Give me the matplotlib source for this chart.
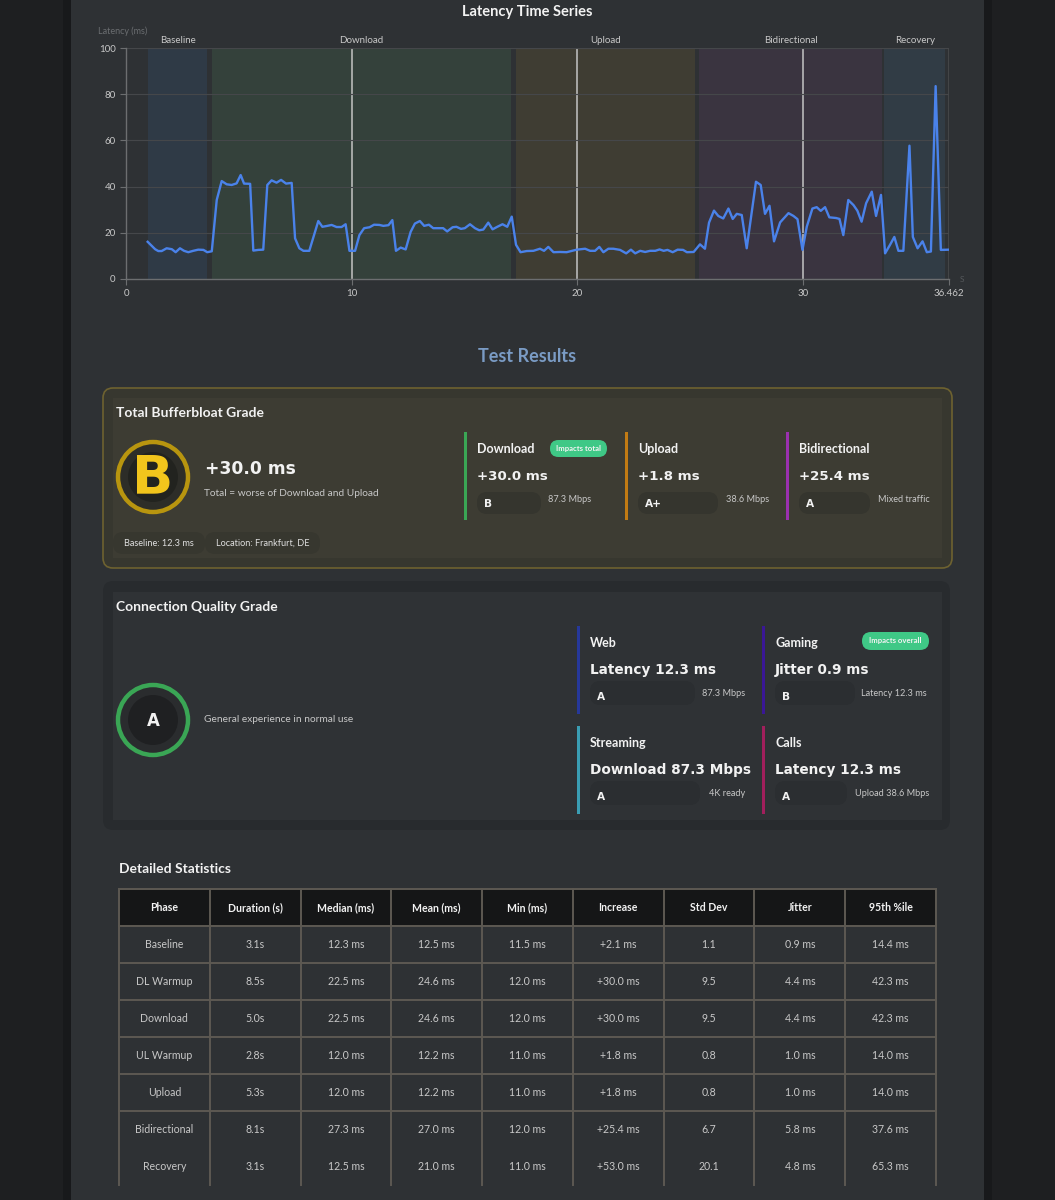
import matplotlib
matplotlib.use("Agg")
import matplotlib.pyplot as plt
from matplotlib.patches import FancyBboxPatch, Circle, Rectangle

# ---- data -------------------------------------------------------------
times = [
    0.96, 1.29, 1.43, 1.58, 1.80, 2.03, 2.20, 2.39, 2.57, 2.76,
    2.98, 3.20, 3.43, 3.60, 3.80, 4.02, 4.24, 4.46, 4.68, 4.90,
    5.08, 5.23, 5.50, 5.64, 5.86, 6.08, 6.26, 6.45, 6.67, 6.87,
    7.09, 7.34, 7.49, 7.68, 7.86, 8.12, 8.52, 8.70, 8.92, 9.11,
    9.33, 9.55, 9.73, 9.90, 10.15, 10.34, 10.55, 10.79, 10.99, 11.23,
    11.40, 11.63, 11.80, 11.96, 12.17, 12.39, 12.61, 12.80, 13.02, 13.21,
    13.42, 13.61, 14.05, 14.23, 14.47, 14.64, 14.84, 15.01, 15.24, 15.46,
    15.65, 15.83, 16.05, 16.24, 16.45, 16.68, 16.89, 17.09, 17.28, 17.48,
    17.75, 18.05, 18.34, 18.52, 18.71, 18.94, 19.23, 19.52, 19.97, 20.34,
    20.56, 20.78, 20.97, 21.15, 21.37, 21.59, 21.89, 22.16, 22.37, 22.56,
    22.78, 23.00, 23.22, 23.45, 23.64, 23.82, 23.99, 24.22, 24.44, 24.68,
    24.85, 25.15, 25.43, 25.65, 25.83, 26.05, 26.24, 26.46, 26.69, 26.88,
    27.06, 27.28, 27.50, 27.91, 28.12, 28.31, 28.51, 28.71, 28.98, 29.35,
    29.57, 29.75, 29.97, 30.16, 30.41, 30.60, 30.78, 30.97, 31.16, 31.46,
    31.61, 31.78, 32.00, 32.23, 32.40, 32.59, 32.79, 33.04, 33.23, 33.45,
    33.63, 33.85, 34.04, 34.22, 34.44, 34.71, 34.86, 35.07, 35.29, 35.48,
    35.66, 35.87, 36.10, 36.46,
]
latency = [
    16.1, 12.9, 12.1, 12.1, 13.3, 12.9, 11.6, 13.3, 12.2, 11.6,
    12.2, 12.7, 12.6, 11.6, 12.0, 34.2, 42.4, 41.0, 40.7, 41.4,
    45.0, 41.3, 41.2, 12.3, 12.6, 12.7, 40.7, 42.7, 41.7, 42.9,
    41.3, 41.6, 17.6, 13.3, 12.2, 12.2, 25.1, 22.6, 23.0, 23.4,
    22.5, 22.5, 23.7, 12.2, 12.2, 19.0, 22.0, 22.4, 23.5, 23.4,
    23.0, 23.3, 25.5, 12.2, 13.6, 12.8, 20.4, 24.0, 25.1, 23.0,
    23.5, 22.0, 22.0, 20.6, 22.4, 22.6, 21.7, 22.0, 23.7, 22.0,
    21.1, 21.4, 24.4, 21.5, 22.6, 23.7, 22.6, 27.0, 14.8, 11.6,
    12.1, 12.2, 13.1, 12.2, 13.9, 11.6, 11.7, 11.6, 12.7, 13.1,
    12.2, 12.2, 13.9, 11.6, 13.1, 13.1, 12.6, 11.1, 12.7, 11.1,
    12.2, 11.7, 12.2, 12.2, 12.8, 12.2, 12.6, 11.6, 12.7, 12.6,
    11.6, 11.7, 15.0, 13.1, 24.4, 29.6, 27.3, 26.2, 30.5, 26.0,
    28.2, 27.7, 13.3, 42.1, 40.7, 28.2, 31.7, 16.3, 24.5, 28.5,
    27.3, 25.9, 12.6, 22.6, 30.5, 31.1, 29.5, 31.1, 26.7, 26.4,
    26.0, 19.0, 34.2, 32.0, 29.6, 24.8, 32.8, 37.8, 27.3, 36.4,
    11.1, 14.8, 18.2, 12.2, 12.2, 57.7, 18.2, 13.3, 16.3, 11.6,
    11.9, 83.5, 12.6, 12.7,
]
test_end = 36.462

phase_names = ["Baseline", "Download", "Upload", "Bidirectional", "Recovery"]
phase_start = [0.97, 3.80, 17.28, 25.40, 33.60]
phase_end = [3.60, 17.06, 25.20, 33.50, 36.30]
phase_colors = ["#2f3a46", "#34413b", "#3f3d33", "#3a3440", "#313c45"]

total_grade = "B"
total_value = "+30.0 ms"
total_note = "Total = worse of Download and Upload"
total_pills = ["Baseline: 12.3 ms", "Location: Frankfurt, DE"]

dir_names = ["Download", "Upload", "Bidirectional"]
dir_values = ["+30.0 ms", "+1.8 ms", "+25.4 ms"]
dir_grades = ["B", "A+", "A"]
dir_notes = ["87.3 Mbps", "38.6 Mbps", "Mixed traffic"]
dir_colors = ["#3aa655", "#c27b14", "#9b30b0"]

quality_grade = "A"
quality_note = "General experience in normal use"
use_names = ["Web", "Gaming", "Streaming", "Calls"]
use_values = ["Latency 12.3 ms", "Jitter 0.9 ms", "Download 87.3 Mbps", "Latency 12.3 ms"]
use_grades = ["A", "B", "A", "A"]
use_notes = ["87.3 Mbps", "Latency 12.3 ms", "4K ready", "Upload 38.6 Mbps"]
use_colors = ["#26389a", "#3a1796", "#3a9db3", "#a11f5c"]

table_cols = ["Phase", "Duration (s)", "Median (ms)", "Mean (ms)", "Min (ms)",
              "Increase", "Std Dev", "Jitter", "95th %ile"]
table_phase = ["Baseline", "DL Warmup", "Download", "UL Warmup", "Upload",
               "Bidirectional", "Recovery"]
table_duration = ["3.1s", "8.5s", "5.0s", "2.8s", "5.3s", "8.1s", "3.1s"]
table_median = ["12.3 ms", "22.5 ms", "22.5 ms", "12.0 ms", "12.0 ms", "27.3 ms", "12.5 ms"]
table_mean = ["12.5 ms", "24.6 ms", "24.6 ms", "12.2 ms", "12.2 ms", "27.0 ms", "21.0 ms"]
table_min = ["11.5 ms", "12.0 ms", "12.0 ms", "11.0 ms", "11.0 ms", "12.0 ms", "11.0 ms"]
table_increase = ["+2.1 ms", "+30.0 ms", "+30.0 ms", "+1.8 ms", "+1.8 ms", "+25.4 ms", "+53.0 ms"]
table_std = ["1.1", "9.5", "9.5", "0.8", "0.8", "6.7", "20.1"]
table_jitter = ["0.9 ms", "4.4 ms", "4.4 ms", "1.0 ms", "1.0 ms", "5.8 ms", "4.8 ms"]
table_p95 = ["14.4 ms", "42.3 ms", "42.3 ms", "14.0 ms", "14.0 ms", "37.6 ms", "65.3 ms"]

# ---- style ------------------------------------------------------------
W, H = 1055, 1200
PAGE = "#1e1f21"
PANEL = "#2e3134"
TXT = "#f2f2f2"
SUB = "#c8c8c8"
SANS = ["Lato", "DejaVu Sans"]
HEAVY = ["DejaVu Sans"]

fig = plt.figure(figsize=(W / 100, H / 100), dpi=100)
fig.patch.set_facecolor(PAGE)

cv = fig.add_axes([0, 0, 1, 1])
cv.set_xlim(0, W)
cv.set_ylim(H, 0)
cv.axis("off")


def rbox(x0, y0, x1, y1, r, fc, ec="none", lw=0, z=1):
    p = FancyBboxPatch((x0, y0), x1 - x0, y1 - y0,
                       boxstyle=f"round,pad=0,rounding_size={r}",
                       fc=fc, ec=ec, lw=lw, zorder=z)
    cv.add_patch(p)


def txt(x, y, s, size, color=TXT, weight="normal", ha="left", va="center",
        family=SANS, z=5):
    cv.text(x, y, s, fontsize=size, color=color, fontweight=weight,
            ha=ha, va=va, family=family, zorder=z)


def grade_circle(cx, cy, letter, ring, mid, inner, color, size):
    cv.add_patch(Circle((cx, cy), 35, fc=mid, ec=ring, lw=3.2, zorder=3))
    cv.add_patch(Circle((cx, cy), 25, fc=inner, ec="none", zorder=4))
    txt(cx, cy + 1, letter, size, color=color, weight="bold", ha="center",
        family=HEAVY)


# page panel
cv.add_patch(Rectangle((63, 0), 929, H, fc="#18191b", ec="none", zorder=0))
cv.add_patch(Rectangle((71, 0), 913, H, fc=PANEL, ec="none", zorder=0))

# ---- latency chart ----------------------------------------------------
L, R, T, B = 126, 949, 48, 279
ax = fig.add_axes([L / W, 1 - B / H, (R - L) / W, (B - T) / H])
ax.set_facecolor("none")
ax.set_xlim(0, test_end)
ax.set_ylim(0, 100)

for s, e, c in zip(phase_start, phase_end, phase_colors):
    ax.axvspan(s, e, color=c, lw=0, zorder=0)
for name, s, e in zip(phase_names, phase_start, phase_end):
    ax.text((s + e) / 2, 101.5, name, ha="center", va="bottom", fontsize=7,
            color=SUB, family=SANS)

ax.set_yticks([0, 20, 40, 60, 80, 100])
ax.set_xticks([0, 10, 20, 30, test_end])
ax.set_xticklabels(["0", "10", "20", "30", "36.462"])
ax.grid(axis="y", color="#45474a", lw=0.8, zorder=1)
for xv in [10, 20, 30]:
    ax.axvline(xv, color="#c4c4c4", lw=1.1, zorder=1)
ax.axvline(test_end, color="#9a9a9a", lw=1.0, zorder=1)

ax.plot(times, latency, color="#4a82ea", lw=1.7, zorder=3)

for sp in ["top", "right"]:
    ax.spines[sp].set_visible(False)
for sp in ["left", "bottom"]:
    ax.spines[sp].set_color("#6c6e70")
    ax.spines[sp].set_linewidth(1.0)
ax.tick_params(colors="#6c6e70", labelcolor=SUB, labelsize=7, length=4, width=0.8)
for lab in ax.get_xticklabels() + ax.get_yticklabels():
    lab.set_family(SANS)

txt(527, 12, "Latency Time Series", 10.5, weight="bold", ha="center")
txt(98, 31, "Latency (ms)", 6.5, color="#6a6d70")
txt(960, 280, "S", 6, color="#55585b")

# ---- test results -----------------------------------------------------
txt(527, 357, "Test Results", 13, color="#7a9bc4", weight="bold", ha="center")

# total bufferbloat card
rbox(103, 388, 952, 568, 10, "#37372f", ec="#6e6230", lw=1.2)
cv.add_patch(Rectangle((113, 398), 829, 160, fc="#3d3c33", ec="none", zorder=1))
txt(116, 413, "Total Bufferbloat Grade", 10, weight="bold")
grade_circle(153, 477, total_grade, "#b8950f", "#2d2d28", "#22231f", "#f2c51c", 39)
txt(205, 469, total_value, 12.3, weight="bold", family=HEAVY)
txt(204, 493, total_note, 7.3, color=SUB)
pill_x = [113, 205]
pill_w = [92, 115]
for px, pw, s in zip(pill_x, pill_w, total_pills):
    rbox(px, 532, px + pw, 554, 10, "#37372f", z=2)
    txt(px + pw / 2, 543, s, 6.6, color="#e0e0e0", ha="center")

dir_x = [465, 626, 787]
dir_pill_w = [64, 80, 71]
dir_note_x = [548, 726, 878]
for i in range(3):
    x = dir_x[i]
    cv.add_patch(Rectangle((x - 1.5, 432), 3, 88, fc=dir_colors[i], ec="none", zorder=3))
    txt(x + 12, 449, dir_names[i], 9, weight="bold")
    txt(x + 12, 476, dir_values[i], 9.6, weight="bold", family=HEAVY)
    rbox(x + 12, 492, x + 12 + dir_pill_w[i], 514, 10, "#35352e", z=2)
    txt(x + 19, 504, dir_grades[i], 7.6, weight="bold", family=HEAVY)
    txt(dir_note_x[i], 499, dir_notes[i], 6.6, color=SUB)

rbox(550, 440, 607, 457, 8.5, "#3fc886", z=3)
txt(578.5, 448, "Impacts total", 5.6, weight="bold", ha="center")

# connection quality card
rbox(103, 581, 950, 830, 10, "#282b2e")
cv.add_patch(Rectangle((113, 592), 829, 228, fc="#2f3235", ec="none", zorder=1))
txt(116, 607, "Connection Quality Grade", 10, weight="bold")
grade_circle(153, 720, quality_grade, "#3aa655", "#2a2c2e", "#1f2022", TXT, 12)
txt(204, 720, quality_note, 7.3, color=SUB)

use_x = [578, 763, 578, 763]
use_y = [626, 626, 726, 726]
use_pill_w = [105, 80, 110, 72]
use_note_r = [745, 927, 745, 929]
for i in range(4):
    x, y = use_x[i], use_y[i]
    cv.add_patch(Rectangle((x - 1.5, y), 3, 88, fc=use_colors[i], ec="none", zorder=3))
    txt(x + 12, y + 17, use_names[i], 9, weight="bold")
    txt(x + 12, y + 44, use_values[i], 9.8, weight="bold", family=HEAVY)
    rbox(x + 12, y + 55, x + 12 + use_pill_w[i], y + 79, 10, "#2b2e31", z=2)
    txt(x + 19, y + 71, use_grades[i], 7.6, weight="bold", family=HEAVY)
    txt(use_note_r[i], y + 67, use_notes[i], 6.6, color=SUB, ha="right")

rbox(862, 632, 929, 650, 9, "#3fc886", z=3)
txt(895.5, 641, "Impacts overall", 5.6, weight="bold", ha="center")

# ---- detailed statistics table ---------------------------------------
txt(119, 869, "Detailed Statistics", 10, weight="bold")

rows = list(zip(table_phase, table_duration, table_median, table_mean, table_min,
                table_increase, table_std, table_jitter, table_p95))
tx0, tx1 = 119, 936
head_top, head_h, row_h = 889, 37, 37
col_w = (tx1 - tx0) / len(table_cols)
grid_c = "#5d5952"

cv.add_patch(Rectangle((tx0, head_top), tx1 - tx0, head_h, fc="#151617", ec="none", zorder=2))
for j, name in enumerate(table_cols):
    txt(tx0 + col_w * (j + 0.5), head_top + head_h / 2, name, 7.6, weight="bold",
        ha="center", z=4)
for i, row in enumerate(rows):
    yc = head_top + head_h + row_h * (i + 0.5)
    for j, val in enumerate(row):
        txt(tx0 + col_w * (j + 0.5), yc, val, 7.6, color=SUB, ha="center", z=4)

table_bottom = head_top + head_h + row_h * len(rows)
for j in range(len(table_cols) + 1):
    xg = tx0 + col_w * j
    cv.plot([xg, xg], [head_top, table_bottom], color=grid_c, lw=1.4, zorder=3)
for i in range(len(rows)):
    yg = head_top + head_h * min(i, 1) + row_h * max(i - 1, 0)
    cv.plot([tx0, tx1], [yg, yg], color=grid_c, lw=1.4, zorder=3)

fig.savefig("out.png", dpi=100, facecolor=fig.get_facecolor())
